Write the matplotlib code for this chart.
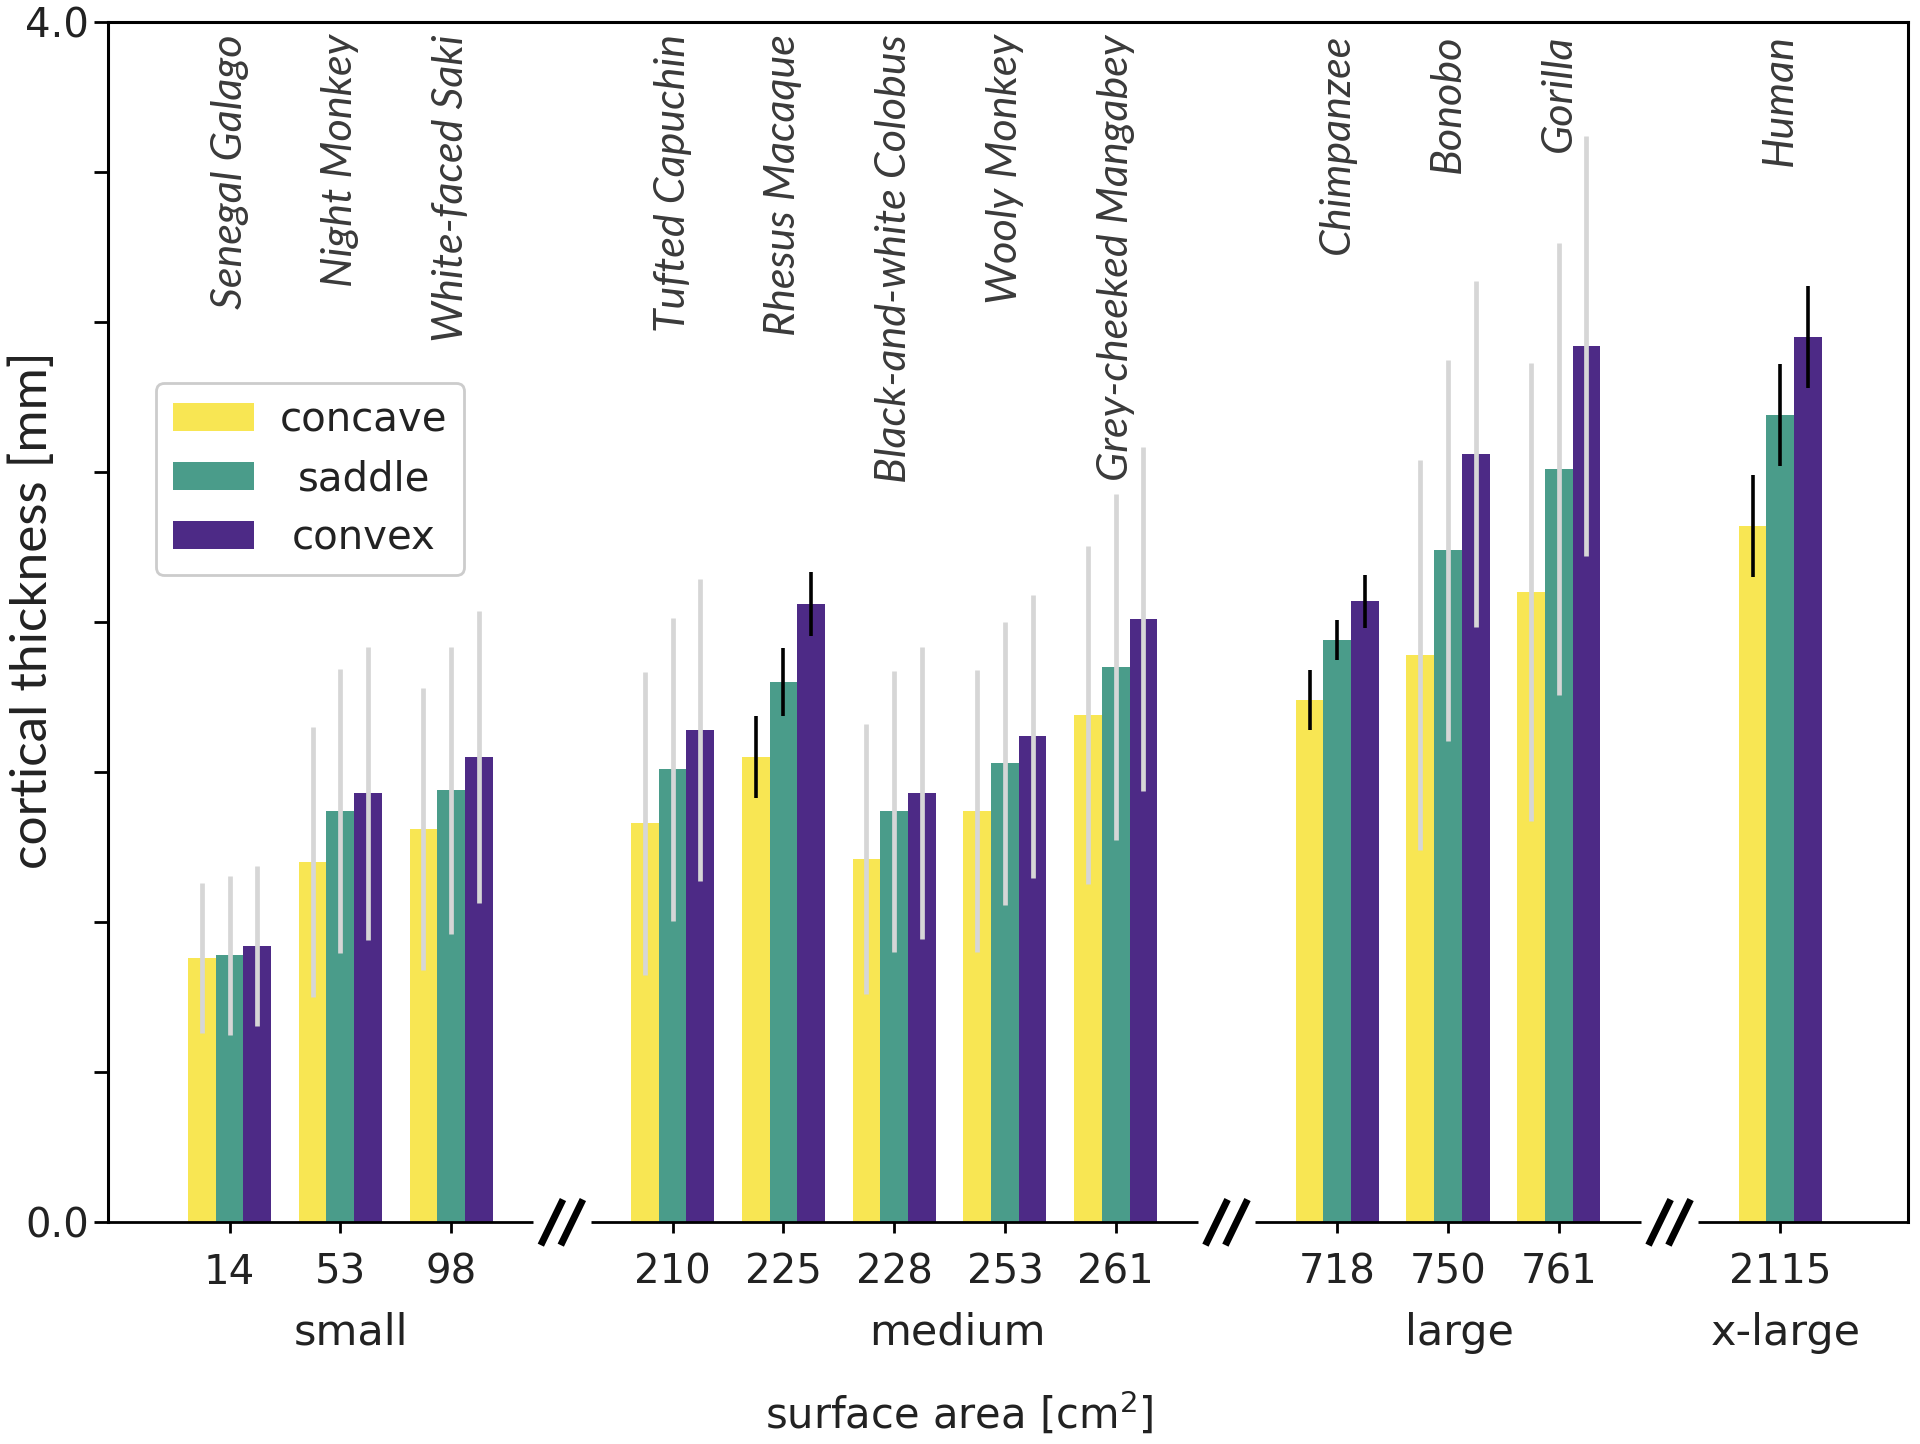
import numpy as np
import matplotlib
matplotlib.use('Agg')
import matplotlib.pyplot as plt
from matplotlib.transforms import blended_transform_factory

# species, surface area (cm^2) and size group
species = ['Senegal Galago', 'Night Monkey', 'White-faced Saki',
           'Tufted Capuchin', 'Rhesus Macaque', 'Black-and-white Colobus',
           'Wooly Monkey', 'Grey-cheeked Mangabey',
           'Chimpanzee', 'Bonobo', 'Gorilla', 'Human']
area_labels = ['14', '53', '98', '210', '225', '228', '253', '261',
               '718', '750', '761', '2115']
groups = ['small', 'medium', 'large', 'x-large']
group_sizes = [3, 5, 3, 1]

# mean cortical thickness [mm]
concave = [0.88, 1.20, 1.31, 1.33, 1.55, 1.21, 1.37, 1.69, 1.74, 1.89, 2.10, 2.32]
saddle = [0.89, 1.37, 1.44, 1.51, 1.80, 1.37, 1.53, 1.85, 1.94, 2.24, 2.51, 2.69]
convex = [0.92, 1.43, 1.55, 1.64, 2.06, 1.43, 1.62, 2.01, 2.07, 2.56, 2.92, 2.95]

# error (half length of the bars)
concave_err = [0.25, 0.45, 0.47, 0.505, 0.137, 0.45, 0.47, 0.563, 0.10, 0.65, 0.763, 0.169]
saddle_err = [0.265, 0.473, 0.478, 0.505, 0.114, 0.469, 0.471, 0.576, 0.067, 0.635, 0.753, 0.169]
convex_err = [0.267, 0.488, 0.486, 0.504, 0.106, 0.486, 0.471, 0.573, 0.088, 0.576, 0.70, 0.169]

# species drawn with dark error bars
dark_err = [False, False, False, False, True, False, False, False, True, False, False, True]

colors = ['#f8e653', '#4a9c8a', '#4d2a86']
names = ['concave', 'saddle', 'convex']

# x positions: one empty slot between groups
xpos = []
start = 0
for n in group_sizes:
    xpos += list(range(start, start + n))
    start += n + 1
xpos = np.array(xpos, dtype=float)
breaks = []
start = 0
for n in group_sizes[:-1]:
    start += n
    breaks.append(start)
    start += 1

fig = plt.figure(figsize=(19.2, 14.44), dpi=100)
ax = fig.add_axes([0.0561, 0.1535, 0.9375, 0.8312])

w = 0.25
series = [concave, saddle, convex]
errs = [concave_err, saddle_err, convex_err]
for k in range(3):
    xs = xpos + (k - 1) * w
    ax.bar(xs, series[k], width=w, color=colors[k], label=names[k], zorder=2)
    for i in range(len(xs)):
        if dark_err[i]:
            ax.errorbar(xs[i], series[k][i], yerr=errs[k][i], fmt='none',
                        ecolor='black', elinewidth=2.6, capsize=0, zorder=3)
        else:
            ax.errorbar(xs[i], series[k][i], yerr=errs[k][i], fmt='none',
                        ecolor='#d6d6d6', elinewidth=3.4, capsize=0, zorder=3)

for i in range(len(species)):
    ax.text(xpos[i], 3.96, species[i], rotation=90, ha='center', va='top',
            fontsize=31, style='italic', color='#3a3a3a',
            family=['Lato', 'DejaVu Sans'])

ax.set_xlim(-1.1, 15.15)
ax.set_ylim(0, 4.0)
ax.set_yticks(np.arange(0, 4.01, 0.5))
ax.set_yticklabels(['0.0', '', '', '', '', '', '', '', '4.0'])
ax.set_xticks(xpos)
ax.set_xticklabels(area_labels)
ax.tick_params(axis='both', labelsize=29, width=2, length=10, colors='black',
               labelcolor='#222222')
ax.tick_params(axis='x', pad=14, length=8)
for s in ['left', 'top', 'right']:
    ax.spines[s].set_linewidth(2.2)
ax.spines['bottom'].set_visible(False)

ax.set_ylabel('cortical thickness [mm]', fontsize=37, color='#222222',
              family=['Lato', 'DejaVu Sans'])
ax.yaxis.set_label_coords(-0.029, 0.51)

# broken bottom axis with // marks
trans = blended_transform_factory(ax.transData, ax.transAxes)
edges = [ax.get_xlim()[0]] + [b for b in breaks for _ in (0, 1)] + [ax.get_xlim()[1]]
for j in range(0, len(edges), 2):
    a = edges[j] + (0.26 if j > 0 else 0)
    b = edges[j + 1] - (0.26 if j + 1 < len(edges) - 1 else 0)
    ax.plot([a, b], [0, 0], color='black', lw=2, transform=trans, clip_on=False,
            solid_capstyle='butt')
for b in breaks:
    for off in (-0.09, 0.09):
        ax.plot([b + off - 0.1, b + off + 0.1], [-0.019, 0.019], color='black',
                lw=5, transform=trans, clip_on=False, solid_capstyle='butt')

# group labels under the tick labels
group_x = [1.1, 6.57, 11.1, 14.05]
for g, gx in zip(groups, group_x):
    ax.text(gx, -0.092, g, transform=trans, ha='center', va='center',
            fontsize=31, color='#222222')
ax.text(0.473, -0.160, 'surface area [cm$^2$]', transform=ax.transAxes,
        ha='center', va='center', fontsize=30, color='#222222')

leg = ax.legend(loc='upper left', bbox_to_anchor=(0.027, 0.699), fontsize=29,
                handlelength=2.0, handleheight=0.7, labelspacing=0.47,
                borderpad=0.42, borderaxespad=0, handletextpad=0.65,
                fancybox=True, edgecolor='#cccccc', framealpha=1)
leg.get_frame().set_linewidth(2)
fig.canvas.draw()
r = fig.canvas.get_renderer()
widths = [t.get_window_extent(r).width for t in leg.get_texts()]
for t, tw in zip(leg.get_texts(), widths):
    t.set_color('#222222')
    t.set_position(((max(widths) - tw) / 2, 0))

fig.savefig('out.png', dpi=100)
